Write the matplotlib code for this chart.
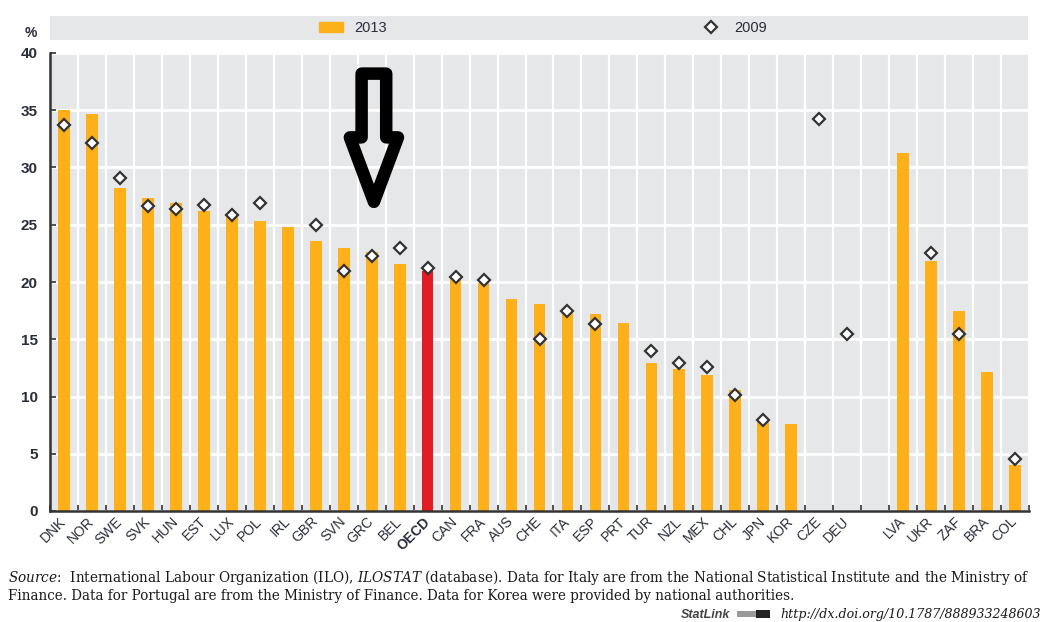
import numpy as np
import matplotlib
matplotlib.use("Agg")
import matplotlib.pyplot as plt
from matplotlib.patches import Polygon, Rectangle

# ---------------- data ----------------
countries = ["DNK", "NOR", "SWE", "SVK", "HUN", "EST", "LUX", "POL", "IRL", "GBR",
             "SVN", "GRC", "BEL", "OECD", "CAN", "FRA", "AUS", "CHE", "ITA", "ESP",
             "PRT", "TUR", "NZL", "MEX", "CHL", "JPN", "KOR", "CZE", "DEU", "",
             "LVA", "UKR", "ZAF", "BRA", "COL"]
nan = np.nan
values_2013 = [35.0, 34.7, 28.2, 27.3, 26.9, 26.2, 25.9, 25.3, 24.8, 23.6,
               23.0, 22.6, 21.6, 21.0, 20.3, 19.9, 18.5, 18.1, 17.4, 17.2,
               16.4, 12.9, 12.4, 11.9, 10.6, 7.8, 7.6, nan, nan, nan,
               31.3, 21.8, 17.45, 12.1, 4.0]
values_2009 = [33.7, 32.1, 29.1, 26.6, 26.4, 26.7, 25.85, 26.9, nan, 25.0,
               21.0, 22.3, 23.0, 21.2, 20.4, 20.2, nan, 15.05, 17.5, 16.3,
               nan, 14.0, 12.95, 12.6, 10.1, 7.95, nan, 34.2, 15.5, nan,
               nan, 22.5, 15.5, nan, 4.55]
yticks = [0, 5, 10, 15, 20, 25, 30, 35, 40]
highlight = "OECD"
pointed = "GRC"

# ---------------- style ----------------
ORANGE = "#fdb019"
RED = "#e01b23"
BG = "#e6e7e9"
DARK = "#333333"
SANS = ["Liberation Sans", "DejaVu Sans"]
SERIF = "DejaVu Serif"

plt.rcParams["font.family"] = SANS
plt.rcParams["mathtext.fontset"] = "custom"
plt.rcParams["mathtext.rm"] = SERIF
plt.rcParams["mathtext.it"] = SERIF + ":italic"

W, H = 1043, 622
fig = plt.figure(figsize=(W / 100, H / 100), dpi=100)
ax = fig.add_axes([50 / W, 1 - 511 / H, (1029 - 50) / W, (511 - 53) / H])

x = np.arange(len(countries))
v13 = np.array(values_2013, dtype=float)
v09 = np.array(values_2009, dtype=float)

m13 = ~np.isnan(v13)
colors = [RED if c == highlight else ORANGE for c in np.array(countries)[m13]]
bars = ax.bar(x[m13], v13[m13], width=0.42, color=colors, zorder=2, label="2013")
m09 = ~np.isnan(v09)
pts, = ax.plot(x[m09], v09[m09], ls="none", marker="D", ms=6.5, mfc="white",
               mec=DARK, mew=1.6, zorder=3, label="2009")

ax.set_xlim(-0.5, len(countries) - 0.5)
ax.set_ylim(0, 40)
ax.set_facecolor(BG)
ax.set_axisbelow(True)

ax.set_yticks(yticks)
ax.set_yticklabels([str(t) for t in yticks])
ax.tick_params(axis="y", direction="in", length=4, width=1.2, color=DARK,
               labelsize=11, labelcolor="#2a2d3a", pad=9)
for lab in ax.get_yticklabels():
    lab.set_fontweight("bold")

ax.set_xticks(x)
ax.set_xticklabels(countries)
ax.set_xticks(np.arange(-0.5, len(countries), 1.0), minor=True)
ax.tick_params(axis="x", which="major", length=0, labelsize=10,
               labelcolor="#2a2d3a", pad=6)
ax.tick_params(axis="x", which="minor", direction="in", length=4, width=1.2,
               color=DARK)
for lab in ax.get_xticklabels():
    lab.set_rotation(45)
    lab.set_ha("right")
    lab.set_va("center")
    lab.set_rotation_mode("anchor")
    if lab.get_text() == highlight:
        lab.set_fontweight("bold")

ax.yaxis.grid(True, color="white", lw=2.0)
ax.xaxis.grid(True, which="minor", color="white", lw=1.6)
ax.xaxis.grid(False, which="major")

for s in ["top", "right"]:
    ax.spines[s].set_visible(False)
for s in ["left", "bottom"]:
    ax.spines[s].set_color(DARK)
    ax.spines[s].set_linewidth(1.8)

fig.text(31 / W, 1 - 33 / H, "%", ha="center", va="center", fontsize=10,
         fontweight="bold", color="#2a2d3a")

# ---------------- arrow annotation (hollow) ----------------
xc = countries.index(pointed) + 0.08
sh, hh = 0.44, 0.86
arrow = Polygon([(xc - sh, 38.2), (xc + sh, 38.2), (xc + sh, 32.63),
                 (xc + hh, 32.63), (xc, 27.0), (xc - hh, 32.63),
                 (xc - sh, 32.63)], closed=True, fill=False, edgecolor="black",
                lw=9.0, joinstyle="round", zorder=5)
ax.add_patch(arrow)

# ---------------- legend band ----------------
fig.patches.append(Rectangle((50 / W, 1 - 40 / H), (1028 - 50) / W, 24 / H,
                             transform=fig.transFigure, facecolor=BG,
                             edgecolor="none", zorder=0))
leg = fig.legend(handles=[bars, pts], labels=["2013", "2009"], loc="center",
                 bbox_to_anchor=(543 / W, 1 - 28 / H), ncol=2, frameon=False,
                 fontsize=10.5, handlelength=1.65, handleheight=0.75,
                 columnspacing=21.4, handletextpad=0.8, borderaxespad=0)
for t in leg.get_texts():
    t.set_color("#2a2d3a")
leg.legend_handles[0].set_color(ORANGE)

# ---------------- source notes ----------------
line1 = (r"$\mathit{Source}$:  International Labour Organization (ILO), "
         r"$\mathit{ILOSTAT}$ (database). Data for Italy are from the National "
         r"Statistical Institute and the Ministry of")
line2 = ("Finance. Data for Portugal are from the Ministry of Finance. "
         "Data for Korea were provided by national authorities.")
fig.text(8 / W, 1 - 582 / H, line1, ha="left", va="baseline", fontsize=9.85,
         family=SERIF, color="#1a1a1a")
fig.text(8 / W, 1 - 600 / H, line2, ha="left", va="baseline", fontsize=9.75,
         family=SERIF, color="#1a1a1a")
fig.text(1041 / W, 1 - 618 / H, "http://dx.doi.org/10.1787/888933248603",
         ha="right", va="baseline", fontsize=9.1, family=SERIF, style="italic",
         color="#1a1a1a")
fig.text(730 / W, 1 - 618 / H, "StatLink", ha="right", va="baseline",
         fontsize=9, style="italic", fontweight="bold", color="#444444")
fig.patches.append(Rectangle((737 / W, 1 - 617 / H), 22 / W, 6 / H,
                             transform=fig.transFigure, facecolor="#9a9a9a",
                             edgecolor="none"))
fig.patches.append(Rectangle((756 / W, 1 - 618 / H), 14 / W, 8 / H,
                             transform=fig.transFigure, facecolor="#222222",
                             edgecolor="none"))

fig.savefig("out.png", dpi=100)
